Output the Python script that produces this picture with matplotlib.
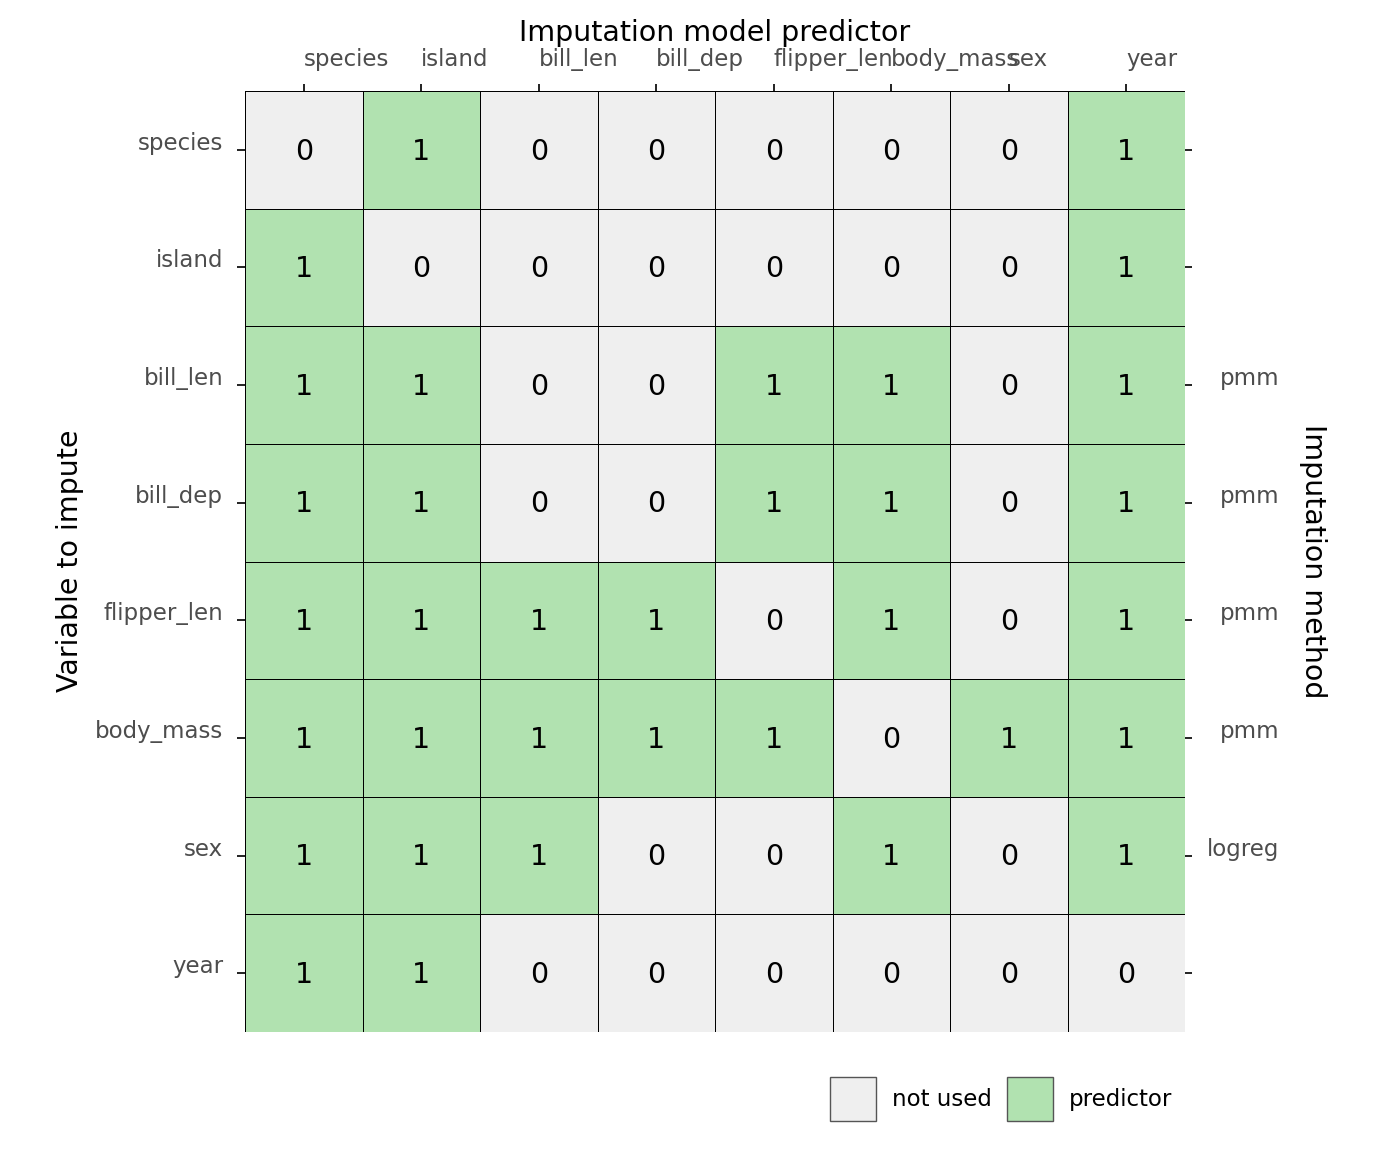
import numpy as np
import matplotlib
matplotlib.use('Agg')
import matplotlib.pyplot as plt
from matplotlib.colors import ListedColormap
from matplotlib.patches import Patch

# predictor matrix: rows = variable to impute, cols = predictor
variables = ['species', 'island', 'bill_len', 'bill_dep', 'flipper_len', 'body_mass', 'sex', 'year']
methods = ['', '', 'pmm', 'pmm', 'pmm', 'pmm', 'logreg', '']
pred = np.array([
    [0, 1, 0, 0, 0, 0, 0, 1],
    [1, 0, 0, 0, 0, 0, 0, 1],
    [1, 1, 0, 0, 1, 1, 0, 1],
    [1, 1, 0, 0, 1, 1, 0, 1],
    [1, 1, 1, 1, 0, 1, 0, 1],
    [1, 1, 1, 1, 1, 0, 1, 1],
    [1, 1, 1, 0, 0, 1, 0, 1],
    [1, 1, 0, 0, 0, 0, 0, 0],
])
legend_labels = ['not used', 'predictor']

grey = '#EFEFEF'
green = '#B1E2B0'
tick_col = '#4D4D4D'

fig = plt.figure(figsize=(13.82, 11.52), dpi=100)
W, H = 1382, 1152
ax = fig.add_axes([245 / W, 1 - 1032 / H, 940 / W, 941 / H])

n = len(variables)
ax.pcolormesh(np.arange(n + 1) - 0.5, np.arange(n + 1) - 0.5, pred,
              cmap=ListedColormap([grey, green]), vmin=0, vmax=1,
              edgecolors='black', linewidth=0.6)
for i in range(n):
    for j in range(n):
        ax.text(j, i + 0.015, str(pred[i, j]), ha='center', va='center', fontsize=20.5, color='black')

ax.set_xlim(-0.5, n - 0.5)
ax.set_ylim(n - 0.5, -0.5)
for s in ax.spines.values():
    s.set_visible(False)

lab_size = 16.5

# top axis
ax.xaxis.tick_top()
ax.set_xticks(range(n))
ax.set_xticklabels(variables, ha='left', va='baseline', color=tick_col, fontsize=lab_size)
ax.tick_params(axis='x', length=5.2, width=1.4, color='#222222', pad=13)

# left axis
ax.set_yticks(range(n))
ax.set_yticklabels(variables, va='baseline', color=tick_col, fontsize=lab_size)
ax.tick_params(axis='y', length=5.7, width=1.4, color='#222222', pad=10)

# right axis with imputation methods
ax2 = ax.twinx()
ax2.set_ylim(ax.get_ylim())
ax2.set_yticks(range(n))
ax2.set_yticklabels(methods, ha='right', va='baseline', color=tick_col, fontsize=lab_size)
ax2.tick_params(axis='y', length=5.2, width=1.4, color='#222222', pad=62.5)
for s in ax2.spines.values():
    s.set_visible(False)

fig.text(715 / W, 1 - 41 / H, 'Imputation model predictor', ha='center', va='baseline', fontsize=20.5)
fig.text(70 / W, 1 - 561 / H, 'Variable to impute', ha='center', va='center', rotation=90, fontsize=20.5)
fig.text(1313 / W, 1 - 561 / H, 'Imputation method', ha='center', va='center', rotation=-90, fontsize=20.5)

handles = [Patch(facecolor=grey, edgecolor='#555555', linewidth=1),
           Patch(facecolor=green, edgecolor='#555555', linewidth=1)]
fig.legend(handles, legend_labels, loc='center right', bbox_to_anchor=(1172 / W, 1 - 1099 / H),
           ncol=2, frameon=False, fontsize=16.5, handlelength=2.0, handleheight=2.55,
           handletextpad=0.7, columnspacing=0.65, borderpad=0, borderaxespad=0)

fig.savefig('out.png', dpi=100)
